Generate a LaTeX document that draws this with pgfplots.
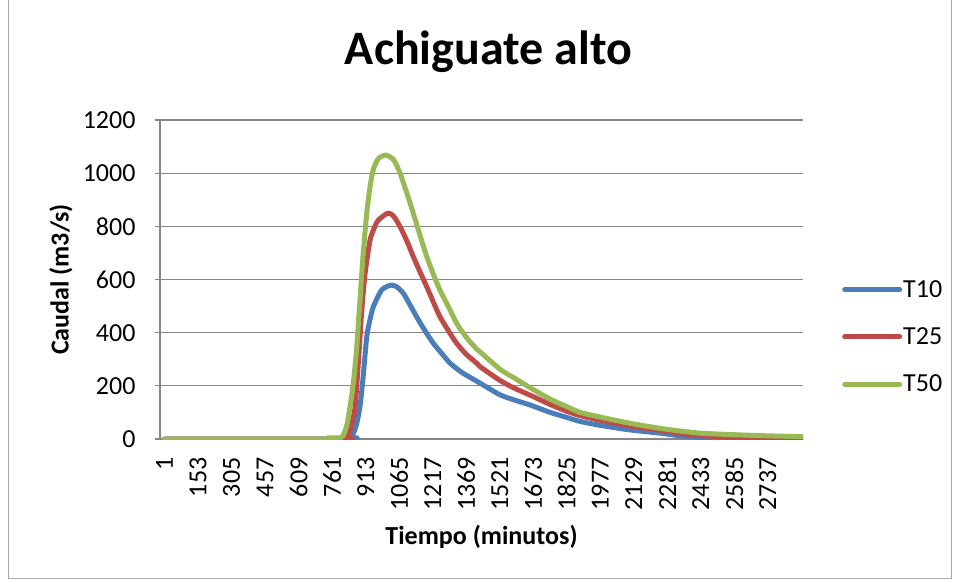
\documentclass[border=0pt]{standalone}
\usepackage{pgfplots}
\pgfplotsset{compat=1.18}
\usepackage{fontspec}
\setmainfont{Carlito}

\definecolor{tdiez}{HTML}{4A7EBB}
\definecolor{tveinte}{HTML}{BE4B48}
\definecolor{tcincuenta}{HTML}{98B954}
\definecolor{rejilla}{HTML}{868686}

\begin{document}
\begin{tikzpicture}
\useasboundingbox (0,0) rectangle (955pt,581pt);
\draw[rejilla!70, line width=1pt] (8pt,3pt) rectangle (951pt,600pt);
\node[font=\fontsize{48}{50}\selectfont\bfseries, anchor=base] at (488.5pt,516pt) {Achiguate alto};

\begin{axis}[
    at={(160pt,142pt)}, anchor=south west,
    scale only axis, width=643pt, height=319pt,
    xmin=-20, xmax=2897,
    ymin=0, ymax=1200,
    xtick={1,153,305,457,609,761,913,1065,1217,1369,1521,1673,1825,1977,2129,2281,2433,2585,2737},
    ytick={0,200,400,600,800,1000,1200},
    axis x line*=bottom, axis y line*=left,
    axis line style={rejilla, line width=1.2pt},
    ymajorgrids, grid style={rejilla, line width=1.2pt},
    xtick style={draw=none},
    ytick style={rejilla, line width=1.2pt},
    tick align=outside, major tick length=5pt,
    /pgf/number format/assume math mode=true,
    /pgf/number format/1000 sep={},
    ticklabel style={font=\fontsize{26}{28}\selectfont},
    xticklabel style={rotate=90, anchor=east, xshift=-10pt},
    yticklabel style={xshift=-16pt},
    xlabel={Tiempo (minutos)}, ylabel={Caudal (m3/s)},
    every axis x label/.style={at={(rel axis cs:0.5,0)}, anchor=center, yshift=-98pt,
        font=\fontsize{26}{28}\selectfont\bfseries},
    every axis y label/.style={at={(rel axis cs:0,0.5)}, anchor=center, xshift=-99pt, rotate=90,
        font=\fontsize{26}{28}\selectfont\bfseries},
    legend style={at={(1,0.32)}, anchor=west, xshift=36pt, draw=none, fill=none,
        font=\fontsize{26}{28}\selectfont, row sep=27pt,
        nodes={inner sep=1pt}},
    legend cell align=left,
    legend image code/.code={\draw[#1] (0pt,0pt) -- (55pt,0pt);},
    every axis plot/.append style={line width=5pt, line join=round, line cap=round, smooth, tension=0.4},
]

\addplot[tdiez] coordinates {
(1,0) (830,0) (850,10) (870,50) (887,121) (900,220) (918,385) (933,450) (948,498)
(986,561) (1028,579) (1055,572) (1084,548) (1114,505) (1144,460) (1180,410)
(1220,360) (1260,320) (1296,285) (1350,250) (1401,225) (1432,210) (1523,166)
(1590,146) (1659,128) (1750,100) (1830,80) (1886,66) (1980,51) (2113,34)
(2249,22) (2330,13) (2430,6) (2530,3) (2657,2) (2780,1) (2895,0)
};
\addlegendentry{T10}

\addplot[tveinte] coordinates {
(1,0) (810,0) (827,5) (845,40) (865,121) (880,290) (895,480) (910,620) (933,749)
(955,800) (971,824) (1014,850) (1040,838) (1069,799) (1100,745) (1129,686)
(1160,628) (1190,573) (1220,515) (1250,460) (1290,405) (1326,360) (1370,318)
(1417,285) (1432,272) (1523,220) (1590,190) (1659,165) (1750,130) (1830,103)
(1886,88) (1980,70) (2113,49) (2249,33) (2330,22) (2430,13) (2530,8) (2657,5)
(2780,4) (2895,3)
};
\addlegendentry{T25}

\addplot[tcincuenta] coordinates {
(1,0) (730,0) (740,4) (800,5) (815,20) (830,60) (842,121) (857,210) (872,340)
(887,520) (902,700) (918,850) (933,950) (948,1015) (971,1055) (1005,1068)
(1040,1050) (1069,1000) (1100,925) (1129,849) (1160,765) (1190,686) (1220,620)
(1250,560) (1290,495) (1326,435) (1370,382) (1417,338) (1432,328) (1523,262)
(1590,228) (1659,193) (1750,150) (1830,120) (1886,100) (1980,82) (2113,59)
(2249,40) (2330,31) (2430,22) (2530,18) (2657,14) (2780,11) (2895,9)
};
\addlegendentry{T50}

\end{axis}
\end{tikzpicture}
\end{document}
